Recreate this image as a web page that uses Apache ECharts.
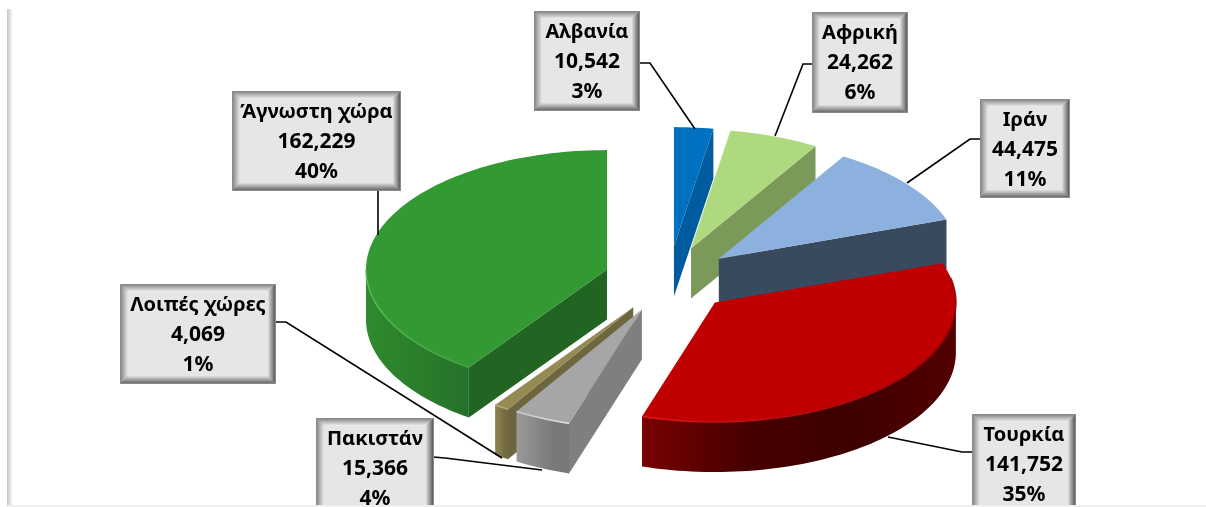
<!DOCTYPE html>
<html><head><meta charset="utf-8">
<style>html,body{margin:0;padding:0;background:#fff}#c{width:1206px;height:507px}</style>
<script src="https://cdn.jsdelivr.net/npm/echarts@6/dist/echarts.min.js"></script>
</head><body><div id="c"></div>
<script>
// ---- data ----
const names = ['Αλβανία','Αφρική','Ιράν','Τουρκία','Πακιστάν','Λοιπές χώρες','Άγνωστη χώρα'];
const values = [10542,24262,44475,141752,15366,4069,162229];

// ---- styles ----
const topColors  = ['#0070C0','#AFD97F','#8DB1DE','#C00000','#A6A6A6','#948A54','#339933'];
const sideColors = ['#005C9E','#7B9959','#3A4A5E','#7A0000','#7F7F7F','#6E663E','#226522'];
const rimStops   = [null,null,null,['#7A0000','#460000','#3E0000','#520000'],['#9A9A9A','#8A8A8A','#7A7A7A','#767676'],
                    ['#8A8050','#857B4C','#766E44','#6E663E'],['#2E8B2E','#2C822C','#2A7A2A','#26702A']];
const edgeStart  = [null,null,null,'#E01818','#D0D0D0','#B5AB74','#5CBC5C'];
const edgeEnd    = [null,null,null,'#7D0000','#F0F0F0','#B5AB74','#3FA03F'];
const drawOrder  = [0,1,2,3,6,5,4];

// ---- projection of the pie ----
const CX=668.6, CY=279.5, RX=241, RY=119.5, EX=64.6, EY=33, DEPTH=50;

// ---- label layout: box [left, top, right, bottom], leader path ----
const boxes = [[535,12,639,110],[813,13,907,112],[981,100,1069,197],[973,415,1075,513],
               [317,419,433,517],[121,285,275,383],[233,92,400,190]];
const leaders = [
  [[639,63],[650,63],[695,129]],
  [[813,64],[803,64],[775,136]],
  [[981,139],[970,139],[907,183]],
  [[973,452],[962,452],[888,437]],
  [[433,457],[445,458],[542,470]],
  [[275,322],[286,322],[502,458]],
  [[378,190],[378,235]]
];
const FONT = '"Noto Sans", sans-serif';

const total = values.reduce((a,b)=>a+b,0);
const fmt = v => String(v).replace(/\B(?=(\d{3})+$)/g,',');
const rad = d => d*Math.PI/180;
let acc=0;
const spans = values.map(v=>{const a=acc; acc+=v/total*360; return [a,acc];});

function arc(ax,ay,a,b){
  const pts=[], n=Math.max(2,Math.ceil((b-a)/1.5));
  for(let i=0;i<=n;i++){const t=rad(a+(b-a)*i/n); pts.push([ax+RX*Math.sin(t), ay-RY*Math.cos(t)]);}
  return pts;
}
const poly=(points,fill,z2)=>({type:'polygon',shape:{points},style:{fill},z2,silent:true});
const hgrad=(...c)=>({type:'linear',x:0,y:0,x2:1,y2:0,colorStops:c.map((color,k)=>({offset:k/(c.length-1),color}))});
const vgrad=(...c)=>({type:'linear',x:0,y:0,x2:0,y2:1,colorStops:c.map((color,k)=>({offset:k/(c.length-1),color}))});
const down=p=>[p[0],p[1]+DEPTH];

function sliceChildren(i){
  const [a,b]=spans[i], mid=rad((a+b)/2);
  const ax=CX+EX*Math.sin(mid), ay=CY-EY*Math.cos(mid), apex=[ax,ay];
  const base=drawOrder.indexOf(i)*10, out=[];
  const edge=arc(ax,ay,a,b);
  if(Math.sin(rad(a))<-1e-6) out.push(poly([apex,edge[0],down(edge[0]),down(apex)],sideColors[i],base));
  if(Math.sin(rad(b))>1e-6)  out.push(poly([apex,edge[edge.length-1],down(edge[edge.length-1]),down(apex)],sideColors[i],base));
  const lo=Math.max(a,90), hi=Math.min(b,270);
  let r=null;
  if(lo<hi){
    r=arc(ax,ay,lo,hi);
    // rim shades run left to right on screen
    out.push(poly(r.concat(r.slice().reverse().map(down)),hgrad(...rimStops[i]),base+1));
  }
  out.push(poly([apex].concat(edge),topColors[i],base+2));
  if(r && edgeStart[i]){
    const e=i===3?arc(ax,ay,lo-12,hi):r;
    out.push({type:'polyline',shape:{points:e},style:{fill:null,stroke:hgrad(edgeStart[i],edgeEnd[i]),lineWidth:1.6,opacity:0.85},z2:base+3,silent:true});
  }
  return out;
}

function labelChildren(i){
  const [l,t,r,bm]=boxes[i], w=7, out=[], z=100;
  out.push({type:'polyline',shape:{points:leaders[i]},style:{fill:null,stroke:'#000',lineWidth:1.6},z2:z,silent:true});
  out.push({type:'rect',shape:{x:l-1,y:t-1,width:r-l+2,height:bm-t+2},style:{fill:'#8a8a8a'},z2:z+1,silent:true});
  out.push(poly([[l,t],[r,t],[r-w,t+w],[l+w,t+w]],vgrad('#8c8c8c','#f2f2f2'),z+2));
  out.push(poly([[l,t],[l+w,t+w],[l+w,bm-w],[l,bm]],hgrad('#8c8c8c','#e8e8e8'),z+2));
  out.push(poly([[r,t],[r-w,t+w],[r-w,bm-w],[r,bm]],hgrad('#e0e0e0','#5a5a5a'),z+2));
  out.push(poly([[l,bm],[l+w,bm-w],[r-w,bm-w],[r,bm]],vgrad('#e0e0e0','#6a6a6a'),z+2));
  out.push({type:'rect',shape:{x:l+w,y:t+w,width:r-l-2*w,height:bm-t-2*w},style:{fill:'#e6e6e6'},z2:z+3,silent:true});
  const lines=[names[i],fmt(values[i]),Math.round(values[i]/total*100)+'%'];
  const cx=(l+r)/2, top=t+20, lh=30;
  lines.forEach((s,k)=>out.push({type:'text',style:{text:s,x:cx,y:top+k*lh,align:'center',verticalAlign:'middle',
    font:'bold '+(k===0?20:21)+'px '+FONT,fill:'#000'},z2:z+4,silent:true}));
  return out;
}

const chart=echarts.init(document.getElementById('c'),null,{renderer:'canvas'});
chart.setOption({
  animation:false,
  backgroundColor:'#ffffff',
  tooltip:{show:false},
  graphic:[
    {type:'rect',shape:{x:7,y:9,width:6,height:496},z:50,silent:true,
     style:{fill:{type:'linear',x:0,y:0,x2:1,y2:0,colorStops:[{offset:0,color:'#c4c4c4'},{offset:1,color:'#ffffff'}]}}},
    {type:'rect',shape:{x:7,y:505,width:1199,height:2},z:50,silent:true,style:{fill:'#efefef'}}
  ],
  series:[{
    type:'custom',coordinateSystem:'none',silent:true,clip:false,z:2,
    data:values.map((v,i)=>({value:[v],name:names[i]})),
    renderItem:(p)=>{
      const i=p.dataIndex;
      return {type:'group',children:sliceChildren(i).concat(labelChildren(i))};
    }
  }]
});
</script></body></html>
